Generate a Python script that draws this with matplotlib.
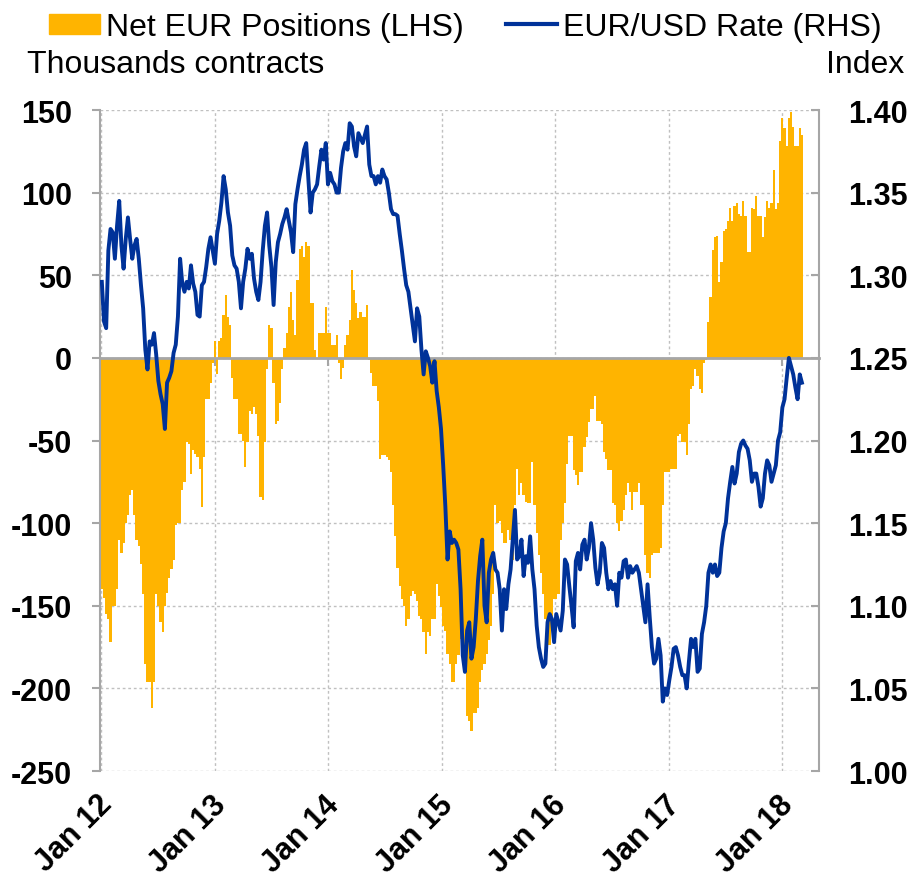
import numpy as np
import pandas as pd
import matplotlib
matplotlib.use('Agg')
import matplotlib.pyplot as plt
import matplotlib.transforms as mtransforms
from matplotlib.patches import Patch
from matplotlib.lines import Line2D
from matplotlib.ticker import FormatStrFormatter

plt.rcParams['font.family'] = ['Liberation Sans', 'DejaVu Sans']
plt.rcParams['axes.unicode_minus'] = False

# Net EUR positions, thousands of contracts (weekly)
pos_2012 = [-140, -145, -155, -158, -172, -150, -150, -140, -110, -118,
            -112, -100, -95, -83, -80, -95, -110, -114, -125, -143,
            -185, -196, -196, -212, -196, -143, -150, -160, -166, -150,
            -142, -133, -128, -122, -101, -100, -100, -80, -75, -51,
            -52, -70, -56, -58, -60, -67, -90, -60, -25, -25, -15, -3]
pos_2013 = [10, -10, 10, 12, 26, 38, 25, 20, -12, -25,
            -25, -46, -46, -50, -66, -51, -32, -34, -30, -34,
            -47, -84, -86, -51, -7, 20, 18, -15, -40, -38,
            -27, -7, 6, 15, 31, 40, 23, 14, 47, 66,
            68, 61, 70, 68, 33, 33, 5, 0, 15, 15, 15, 31]
pos_2014 = [15, 15, 8, 8, 14, -3, -13, -6, 8, 14,
            23, 53, 41, 33, 24, 28, 25, 25, 32, -1,
            -9, -17, -17, -26, -61, -59, -59, -60, -62, -69,
            -89, -108, -127, -138, -146, -150, -162, -158, -144, -141,
            -143, -147, -156, -158, -166, -179, -166, -168, -158, -158, -137, -144]
pos_2015 = [-151, -162, -165, -179, -185, -196, -196, -185, -180, -170,
            -172, -174, -217, -220, -226, -215, -215, -212, -196, -189,
            -185, -179, -171, -162, -143, -89, -100, -99, -106, -112,
            -112, -104, -110, -122, -89, -67, -83, -76, -83, -87,
            -88, -88, -63, -89, -106, -119, -130, -143, -158, -174, -174, -156]
pos_2016 = [-146, -146, -143, -110, -100, -88, -64, -47, -47, -68,
            -71, -77, -69, -69, -54, -48, -39, -31, -31, -23,
            -38, -38, -40, -57, -61, -68, -68, -88, -89, -100,
            -105, -99, -92, -83, -76, -81, -92, -81, -81, -76,
            -89, -89, -119, -130, -133, -119, -118, -118, -118, -115, -89, -69]
pos_2017 = [-69, -69, -67, -67, -67, -47, -46, -51, -51, -59,
            -40, -19, -17, -7, -11, -19, -21, -3, -1, 22,
            37, 65, 73, 74, 46, 58, 77, 78, 83, 91,
            83, 92, 94, 87, 86, 95, 86, 64, 64, 91,
            90, 98, 86, 86, 73, 85, 95, 91, 94, 114, 90, 94]
pos_2018 = [131, 145, 139, 128, 145, 149, 140, 128, 128, 139, 135]

# EUR/USD rate (weekly samples)
rate_2012 = [1.296, 1.272, 1.268, 1.315, 1.328, 1.326, 1.310, 1.330, 1.345, 1.318,
             1.304, 1.322, 1.335, 1.322, 1.310, 1.318, 1.322, 1.310, 1.294, 1.280,
             1.255, 1.243, 1.260, 1.258, 1.265, 1.252, 1.236, 1.228, 1.222, 1.207,
             1.235, 1.238, 1.242, 1.253, 1.258, 1.275, 1.310, 1.295, 1.290, 1.296,
             1.292, 1.306, 1.295, 1.290, 1.276, 1.275, 1.294, 1.296, 1.305, 1.316,
             1.323, 1.315]
rate_2013 = [1.307, 1.325, 1.333, 1.344, 1.360, 1.352, 1.338, 1.330, 1.312, 1.306,
             1.304, 1.296, 1.280, 1.296, 1.304, 1.316, 1.310, 1.313, 1.298, 1.290,
             1.285, 1.296, 1.315, 1.330, 1.338, 1.318, 1.305, 1.282, 1.308, 1.320,
             1.325, 1.331, 1.335, 1.340, 1.333, 1.326, 1.314, 1.343, 1.352, 1.360,
             1.367, 1.376, 1.380, 1.358, 1.338, 1.350, 1.352, 1.355, 1.366, 1.376,
             1.370, 1.380]
rate_2014 = [1.355, 1.362, 1.357, 1.355, 1.350, 1.350, 1.365, 1.375, 1.380, 1.376,
             1.392, 1.390, 1.378, 1.372, 1.386, 1.383, 1.380, 1.385, 1.390, 1.367,
             1.360, 1.360, 1.355, 1.360, 1.356, 1.364, 1.360, 1.358, 1.350, 1.340,
             1.337, 1.337, 1.336, 1.325, 1.315, 1.304, 1.294, 1.290, 1.280, 1.270,
             1.260, 1.280, 1.275, 1.255, 1.240, 1.254, 1.250, 1.245, 1.235, 1.248,
             1.230, 1.220]
rate_2015 = [1.207, 1.185, 1.160, 1.128, 1.145, 1.138, 1.140, 1.138, 1.134, 1.110,
             1.070, 1.060, 1.085, 1.090, 1.068, 1.075, 1.092, 1.115, 1.130, 1.140,
             1.100, 1.090, 1.120, 1.128, 1.132, 1.122, 1.120, 1.110, 1.085, 1.110,
             1.098, 1.113, 1.122, 1.140, 1.158, 1.128, 1.130, 1.140, 1.118, 1.130,
             1.126, 1.142, 1.122, 1.110, 1.088, 1.075, 1.068, 1.063, 1.065, 1.090,
             1.095, 1.092]
rate_2016 = [1.078, 1.095, 1.090, 1.085, 1.097, 1.128, 1.125, 1.112, 1.100, 1.087,
             1.127, 1.132, 1.122, 1.137, 1.140, 1.128, 1.135, 1.150, 1.140, 1.123,
             1.113, 1.120, 1.138, 1.135, 1.120, 1.110, 1.115, 1.110, 1.113, 1.100,
             1.120, 1.117, 1.127, 1.128, 1.117, 1.124, 1.120, 1.122, 1.124, 1.120,
             1.110, 1.100, 1.090, 1.113, 1.093, 1.075, 1.065, 1.068, 1.080, 1.070,
             1.042, 1.050]
rate_2017 = [1.046, 1.055, 1.063, 1.074, 1.075, 1.070, 1.063, 1.058, 1.058, 1.050,
             1.066, 1.080, 1.075, 1.080, 1.060, 1.062, 1.083, 1.090, 1.100, 1.120,
             1.125, 1.120, 1.125, 1.118, 1.120, 1.135, 1.145, 1.150, 1.165, 1.175,
             1.184, 1.174, 1.180, 1.193, 1.198, 1.200, 1.197, 1.195, 1.188, 1.175,
             1.180, 1.180, 1.172, 1.160, 1.165, 1.180, 1.188, 1.185, 1.175, 1.180,
             1.185, 1.200]
rate_2018 = [1.205, 1.220, 1.225, 1.238, 1.250, 1.245, 1.240, 1.232, 1.225, 1.240, 1.235]

year_ticks = ['2012-01-01', '2013-01-01', '2014-01-01', '2015-01-01',
              '2016-01-01', '2017-01-01', '2018-01-01']
year_labels = ['Jan 12', 'Jan 13', 'Jan 14', 'Jan 15', 'Jan 16', 'Jan 17', 'Jan 18']

positions = pos_2012 + pos_2013 + pos_2014 + pos_2015 + pos_2016 + pos_2017 + pos_2018
rates = rate_2012 + rate_2013 + rate_2014 + rate_2015 + rate_2016 + rate_2017 + rate_2018
weeks = pd.date_range('2012-01-03', periods=len(positions), freq='7D')

orange = '#FFB400'
blue = '#003299'
grey = '#A6A6A6'

fig = plt.figure(figsize=(9.08, 8.79), dpi=100)
ax = fig.add_axes([0.1101, 0.1217, 0.7919, 0.752])

ax.bar(weeks, positions, width=7.3, color=orange, linewidth=0, zorder=2)
ax.set_ylim(-250, 150)
ax.set_yticks(np.arange(-250, 151, 50))
ax.set_xlim(pd.Timestamp('2011-12-28'), pd.Timestamp('2018-04-30'))
ax.set_xticks(pd.to_datetime(year_ticks))

ax.grid(True, color='#C0C0C0', linestyle=(0, (2, 2)), linewidth=1)
ax.set_axisbelow(True)

ax.spines['bottom'].set_position(('data', 0))
ax.spines['bottom'].set_color(grey)
ax.spines['bottom'].set_linewidth(2)
ax.spines['bottom'].set_zorder(3)
ax.spines['left'].set_color(grey)
ax.spines['left'].set_linewidth(1.5)
ax.spines['top'].set_visible(False)
ax.spines['right'].set_visible(False)

ax.tick_params(axis='x', direction='out', length=6, width=1.5, color=grey, labelbottom=False)
ax.tick_params(axis='y', direction='out', length=6, width=1.5, color=grey,
               labelsize=22, pad=14)
for lab in ax.get_yticklabels():
    lab.set_fontweight('bold')

# x labels sit at the bottom of the frame, not on the zero line
offset = mtransforms.ScaledTranslation(-4 / 100, -18 / 100, fig.dpi_scale_trans)
for d, lab in zip(pd.to_datetime(year_ticks), year_labels):
    ax.text(d, 0, lab, transform=ax.get_xaxis_transform() + offset,
            rotation=45, ha='right', va='top', rotation_mode='anchor',
            fontsize=22, fontweight='bold')

ax2 = ax.twinx()
ax2.plot(weeks, rates, color=blue, linewidth=2.8, zorder=3)
ax2.set_ylim(1.0, 1.4)
ax2.set_yticks(np.arange(1.0, 1.401, 0.05))
ax2.yaxis.set_major_formatter(FormatStrFormatter('%.2f'))
for side in ['left', 'top', 'bottom']:
    ax2.spines[side].set_visible(False)
ax2.spines['right'].set_color(grey)
ax2.spines['right'].set_linewidth(1.5)
ax2.tick_params(axis='y', direction='in', length=6, width=1.5, color=grey,
                labelsize=22, pad=21)
for lab in ax2.get_yticklabels():
    lab.set_fontweight('bold')

handles = [Patch(color=orange), Line2D([0], [0], color=blue, linewidth=3)]
fig.legend(handles, ['Net EUR Positions (LHS)', 'EUR/USD Rate (RHS)'],
           loc='upper left', bbox_to_anchor=(49 / 908, 0.985), ncol=2,
           frameon=False, fontsize=23, handlelength=1.6, handleheight=0.6,
           handletextpad=0.2, columnspacing=1.3, borderpad=0, borderaxespad=0)

fig.text(27 / 908, 1 - 65 / 879, 'Thousands contracts', fontsize=23,
         ha='left', va='center')
fig.text(904 / 908, 1 - 65 / 879, 'Index', fontsize=23, ha='right', va='center')

fig.savefig('out.png', dpi=100)
